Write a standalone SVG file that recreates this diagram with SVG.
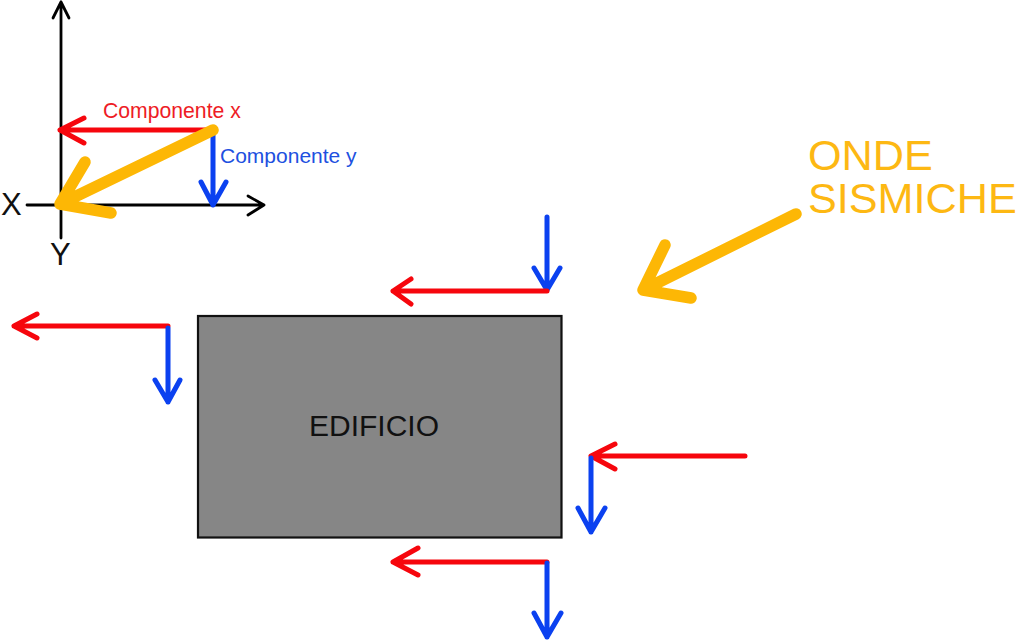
<svg xmlns="http://www.w3.org/2000/svg" width="1016" height="640" viewBox="0 0 1016 640">
<style>
text{font-family:"Liberation Sans",Arial,sans-serif}
.l{fill:none;stroke-linecap:round;stroke-linejoin:round}
.k{stroke:#000;stroke-width:2.8}
.r{stroke:#f6060d;stroke-width:5}
.b{stroke:#0b41f0;stroke-width:5}
.o{stroke:#fdb705;stroke-width:11.500}
</style>
<rect width="1016" height="640" fill="#fff"/>
<g id="connectors">
<g id="axes" class="l k">
<path d="M61 238V2M53 18L61 2L69 18"/>
<path d="M27 205H264M248 196L264 205L248 215"/>
</g>
<g class="l">
<path class="r" d="M213 130H60M84 118L60 130L84 143"/>
<path class="b" d="M213 132V205M201 182L213 205L226 182"/>
<path class="o" d="M213 130L60 204M85 162L60 204L111 213"/>
<path class="o" d="M796 214L643 290M665 245L643 290L691 298"/>
<path class="b" d="M547 217V290M534 268L547 290L560 268"/>
<path class="r" d="M547 291H393M411 279L393 291L411 304"/>
<path class="r" d="M168 326H14M37 314L14 326L37 338"/>
<path class="b" d="M168 328V402M155 380L168 402L180 380"/>
<path class="r" d="M745 456H591M615 444L591 456L615 469"/>
<path class="b" d="M591 458V532M578 508L591 532L605 508"/>
<path class="r" d="M547 562H393M418 548L393 562L418 575"/>
<path class="b" d="M547 563V637M534 613L547 637L561 613"/>
</g>
</g>
<g id="edificio">
<rect x="198" y="316" width="363.500" height="221.500" fill="#868686" stroke="#111" stroke-width="2.200"/>
<text x="374" y="436" font-size="30" text-anchor="middle" fill="#111">EDIFICIO</text>
</g>
<g id="labels">
<text x="103" y="118" font-size="21.200" fill="#ee1c25">Componente x</text>
<text x="220" y="163" font-size="21" fill="#2050e0">Componente y</text>
<text x="1" y="215" font-size="31" fill="#111">X</text>
<text x="50" y="265" font-size="31" fill="#111">Y</text>
<text font-size="43.200" fill="#fdb813"><tspan x="808" y="170">ONDE</tspan><tspan x="808" y="212.500">SISMICHE</tspan></text>
</g>
</svg>
